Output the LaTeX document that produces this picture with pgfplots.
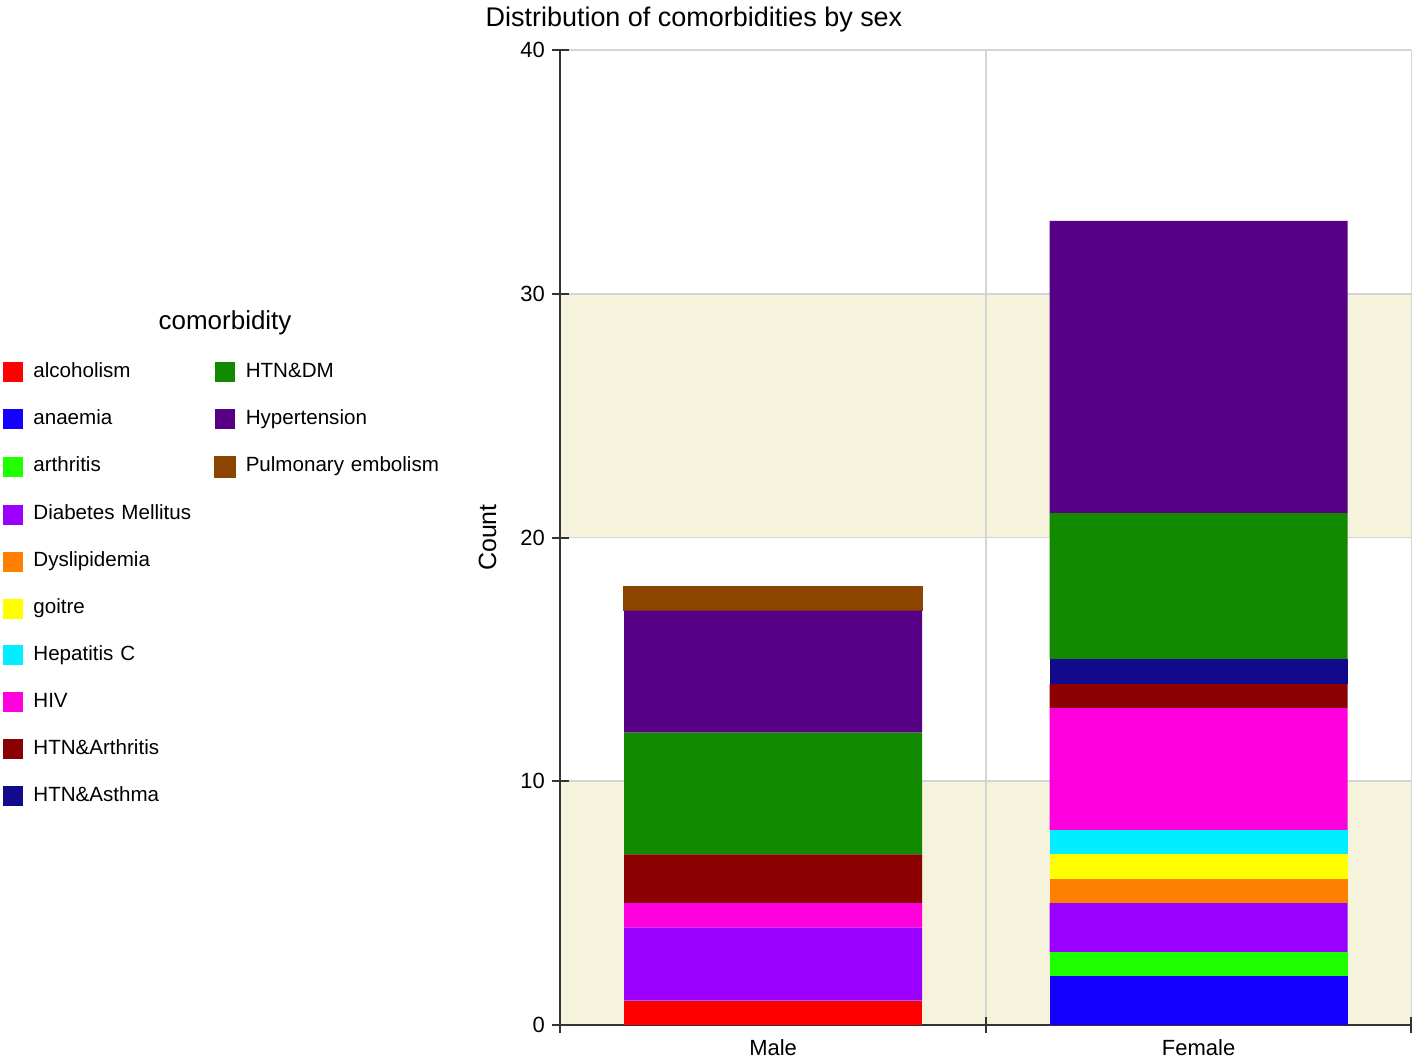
\documentclass[border=0pt]{standalone}
\usepackage{pgfplots}
\pgfplotsset{compat=1.18}
\usepackage{fontspec}
\setmainfont{Liberation Sans}

\definecolor{cAlc}{HTML}{FF0000}
\definecolor{cAna}{HTML}{1400FF}
\definecolor{cArt}{HTML}{1EFF00}
\definecolor{cDia}{HTML}{9900FF}
\definecolor{cDys}{HTML}{FF8000}
\definecolor{cGoi}{HTML}{FFFF00}
\definecolor{cHep}{HTML}{00EEFF}
\definecolor{cHiv}{HTML}{FF00DD}
\definecolor{cHar}{HTML}{8B0000}
\definecolor{cHas}{HTML}{110A8C}
\definecolor{cHdm}{HTML}{118A00}
\definecolor{cHyp}{HTML}{560085}
\definecolor{cPul}{HTML}{8B4500}
\definecolor{band}{HTML}{F5F3DC}
\definecolor{gridgray}{HTML}{D4D4D4}
\definecolor{axgray}{HTML}{333333}

\begin{document}
\begin{tikzpicture}
\begin{axis}[
    set layers,
    scale only axis,
    width=426pt, height=488pt,
    ybar stacked,
    bar width=0.7,
    xmin=-0.5, xmax=1.5,
    ymin=0, ymax=40,
    axis lines=left,
    axis line style={-, axgray, line width=1pt},
    xtick={-0.5,0.5,1.5},
    xticklabels={},
    extra x ticks={0,1},
    extra x tick labels={Male,Female},
    extra x tick style={major tick length=0pt, xmajorgrids=false, ymajorgrids=false,
        tick label style={yshift=-4pt}},
    ytick={0,10,20,30,40},
    grid=major,
    grid style={gridgray, line width=0.8pt},
    tick align=center,
    major tick length=8.5pt,
    tick style={axgray, line width=1pt},
    tick label style={font=\fontsize{11}{13}\selectfont},
    /pgf/number format/assume math mode=true,
    ylabel={Count},
    ylabel style={at={(axis description cs:-0.0857,0.5)}, anchor=center,
        font=\fontsize{12.5}{14}\selectfont},
    title={Distribution of comorbidities by sex},
    title style={at={(axis description cs:0.157,1)}, anchor=base, yshift=6pt,
        font=\fontsize{13.5}{15}\selectfont},
    clip=false,
    legend image code/.code={\fill[#1] (0pt,-5pt) rectangle (10pt,5pt);},
    transpose legend,
    legend columns=10,
    legend cell align=left,
    legend style={
        at={(axis description cs:-0.6549,0.6803)}, anchor=north west,
        draw=none, fill=none, inner sep=0pt,
        font=\fontsize{10.3}{12}\selectfont,
        row sep=13.5pt, column sep=5pt,
        nodes={inner sep=0pt, text height=7.5pt, text depth=2.5pt, anchor=west,
            text width=85.5pt, align=left},
    },
]
\pgfplotsextra{%
  \begin{pgfonlayer}{axis background}
  \fill[band] (axis cs:-0.5,0) rectangle (axis cs:1.5,10);
  \fill[band] (axis cs:-0.5,20) rectangle (axis cs:1.5,30);
  \end{pgfonlayer}%
}

\addplot+[fill=cAlc, draw=none] coordinates {(0,1) (1,0)};
\addlegendentry{alcoholism}
\addplot+[fill=cAna, draw=none] coordinates {(0,0) (1,2)};
\addlegendentry{anaemia}
\addplot+[fill=cArt, draw=none] coordinates {(0,0) (1,1)};
\addlegendentry{arthritis}
\addplot+[fill=cDia, draw=none] coordinates {(0,3) (1,2)};
\addlegendentry{Diabetes Mellitus}
\addplot+[fill=cDys, draw=none] coordinates {(0,0) (1,1)};
\addlegendentry{Dyslipidemia}
\addplot+[fill=cGoi, draw=none] coordinates {(0,0) (1,1)};
\addlegendentry{goitre}
\addplot+[fill=cHep, draw=none] coordinates {(0,0) (1,1)};
\addlegendentry{Hepatitis C}
\addplot+[fill=cHiv, draw=none] coordinates {(0,1) (1,5)};
\addlegendentry{HIV}
\addplot+[fill=cHar, draw=none] coordinates {(0,2) (1,1)};
\addlegendentry{HTN\&Arthritis}
\addplot+[fill=cHas, draw=none] coordinates {(0,0) (1,1)};
\addlegendentry{HTN\&Asthma}
\addplot+[fill=cHdm, draw=none] coordinates {(0,5) (1,6)};
\addlegendentry{HTN\&DM}
\addplot+[fill=cHyp, draw=none] coordinates {(0,5) (1,12)};
\addlegendentry{Hypertension}
\addplot+[fill=cPul, draw=cPul, line width=0.8pt] coordinates {(0,1) (1,0)};
\addlegendentry{\mbox{Pulmonary embolism}}
\addlegendimage{empty legend}\addlegendentry{}
\addlegendimage{empty legend}\addlegendentry{}
\addlegendimage{empty legend}\addlegendentry{}
\addlegendimage{empty legend}\addlegendentry{}
\addlegendimage{empty legend}\addlegendentry{}
\addlegendimage{empty legend}\addlegendentry{}
\addlegendimage{empty legend}\addlegendentry{}

\node[font=\fontsize{13}{15}\selectfont] at (axis description cs:-0.394,0.7203) {comorbidity};
\path (axis description cs:-0.6585,0.5);
\end{axis}
\end{tikzpicture}
\end{document}
